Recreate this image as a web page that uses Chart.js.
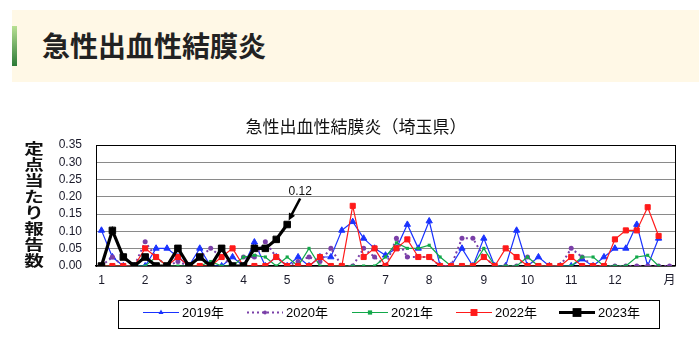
<!DOCTYPE html>
<html lang="ja">
<head>
<meta charset="utf-8">
<title>急性出血性結膜炎</title>
<script src="https://cdn.jsdelivr.net/npm/chart.js@4"></script>
<style>
  html, body { margin:0; padding:0; background:#fff; width:699px; height:348px; overflow:hidden; }
  .head { position:absolute; left:12px; top:10px; width:687px; height:72px; background:#fff8e6; }
  .head .bar { position:absolute; left:0; top:16px; width:5px; height:40px; background:linear-gradient(#b8e093, #2c7a36); }
  .head h1 { position:absolute; left:30px; top:0; margin:0; font:bold 28px "Noto Sans CJK JP", sans-serif; line-height:70px; color:#222; }
  #wrap { position:absolute; left:0; top:95px; width:699px; height:253px; }
</style>
</head>
<body>
<div class="head"><div class="bar"></div><h1>急性出血性結膜炎</h1></div>
<div id="wrap"><canvas id="c" width="699" height="253"></canvas></div>
<script>
// 週番号（第1週〜第53週）
const weeks = [1,2,3,4,5,6,7,8,9,10,11,12,13,14,15,16,17,18,19,20,21,22,23,24,25,26,27,
               28,29,30,31,32,33,34,35,36,37,38,39,40,41,42,43,44,45,46,47,48,49,50,51,52,53];
// 月の目盛を付ける週と、その表示
const tickWeeks  = [1, 5, 9, 14, 18, 22, 27, 31, 36, 40, 44, 48, 53];
const tickLabels = ['1','2','3','4','5','6','7','8','9','10','11','12','月'];

// 定点当たり報告数
const y2019 = [0.103,0.026,0,0,0,0.051,0.051,0.026,0,0.051,0,0,0.026,0,0.069,0,0.026,0,0.026,0,
               0.026,0.026,0.103,0.128,0.080,0.051,0.031,0.051,0.120,0.051,0.130,0,0,0.051,0,0.080,
               0,0,0.103,0,0.026,0,0,0,0.020,0,0.026,0.051,0.051,0.120,0,0.080];
const y2020 = [0,0.026,0,0,0.070,0.026,0,0.013,0,0.026,0.051,0.026,0,0.026,0.026,0.070,0.026,0,0.013,0.026,
               0.013,0.051,0,0,0.051,0.026,0,0.080,0.026,0.026,0.026,0,0,0.080,0.080,0.026,
               0,0,0,0.026,0,0,0,0.051,0.026,0,0,0,0,0,0,0,0];
const y2021 = [0,0,0,0,0,0.026,0,0,0,0,0.013,0,0,0.026,0.031,0.026,0,0.026,0,0.051,
               0,0,0,0,0,0,0.026,0.067,0.051,0.051,0.060,0.026,0,0,0,0.051,
               0,0,0,0.026,0,0,0,0,0.026,0.026,0,0,0,0.026,0.031,0];
const y2022 = [0,0,0,0,0.051,0.026,0,0.026,0,0,0,0.026,0.051,0,0,0,0.026,0,0,0,
               0.026,0,0,0.174,0.026,0.051,0,0.051,0.077,0.026,0.026,0,0,0,0,0.026,
               0,0.051,0.026,0,0,0,0,0.026,0,0,0,0.077,0.103,0.103,0.170,0.087];
const y2023 = [0,0.103,0.026,0,0.026,0,0,0.051,0,0.026,0,0.051,0,0,0.051,0.051,0.077,0.12];

const seriesNames = ['2019年','2020年','2021年','2022年','2023年'];

const datasets = [
  { label:seriesNames[0], data:y2019, borderColor:'#1a33ff', backgroundColor:'#1a33ff', borderWidth:1.2,
    pointStyle:'triangle', pointRadius:3.6, pointBorderWidth:1, order:4 },
  { label:seriesNames[1], data:y2020, borderColor:'#7a3fa8', backgroundColor:'#7a3fa8', borderWidth:2,
    borderDash:[2,3], pointStyle:'circle', pointRadius:2.5, pointBorderWidth:0, order:3 },
  { label:seriesNames[2], data:y2021, borderColor:'#12a84a', backgroundColor:'#12a84a', borderWidth:1.2,
    pointStyle:'rect', pointRadius:2.2, pointBorderWidth:0, order:2 },
  { label:seriesNames[3], data:y2022, borderColor:'#ff1a1a', backgroundColor:'#ff1a1a', borderWidth:1.2,
    pointStyle:'rect', pointRadius:3.6, pointBorderWidth:1, order:1 },
  { label:seriesNames[4], data:y2023, borderColor:'#000', backgroundColor:'#000', borderWidth:3.2,
    pointStyle:'rect', pointRadius:4.6, pointBorderWidth:1, order:0 }
];

// 枠・タイトル・縦軸名・凡例・最新値の注記
const decorations = {
  id:'decorations',
  afterDatasetsDraw(chart) {
    const ctx = chart.ctx, a = chart.chartArea;
    ctx.save();
    // 右側の枠線
    ctx.strokeStyle = '#000'; ctx.lineWidth = 1;
    ctx.beginPath(); ctx.moveTo(a.right + 0.5, a.top); ctx.lineTo(a.right + 0.5, a.bottom); ctx.stroke();

    // グラフタイトル
    ctx.fillStyle = '#111';
    ctx.font = '17px "Noto Sans CJK JP", sans-serif';
    ctx.textAlign = 'center'; ctx.textBaseline = 'middle';
    ctx.fillText('急性出血性結膜炎（埼玉県）', 356, 32);

    // 縦軸名（縦書き）
    const yTitle = '定点当たり報告数';
    ctx.font = 'bold 17px "Noto Sans CJK JP", sans-serif';
    for (let i = 0; i < yTitle.length; i++) {
      ctx.save();
      ctx.translate(34, 53 + i * 16);
      ctx.scale(1.15, 0.86);
      ctx.fillText(yTitle[i], 0, 0);
      ctx.restore();
    }

    // 2023年の最新値の注記
    const meta = chart.getDatasetMeta(4);
    const last = meta.data[meta.data.length - 1];
    const val = y2023[y2023.length - 1];
    const tipX = last.x + 1.5, tipY = last.y - 4;
    const tailX = last.x + 13, tailY = last.y - 26;
    ctx.strokeStyle = '#000'; ctx.fillStyle = '#000'; ctx.lineWidth = 2.6;
    ctx.beginPath(); ctx.moveTo(tailX, tailY); ctx.lineTo(tipX + 2.5, tipY - 5); ctx.stroke();
    const ang = Math.atan2(tipY - tailY, tipX - tailX);
    ctx.beginPath();
    ctx.moveTo(tipX, tipY);
    ctx.lineTo(tipX - 8 * Math.cos(ang - 0.45), tipY - 8 * Math.sin(ang - 0.45));
    ctx.lineTo(tipX - 8 * Math.cos(ang + 0.45), tipY - 8 * Math.sin(ang + 0.45));
    ctx.closePath(); ctx.fill();
    ctx.font = '12px "Liberation Sans", sans-serif';
    ctx.fillStyle = '#111';
    ctx.fillText(val.toFixed(2), last.x + 13, last.y - 33);

    // 凡例
    const boxL = 118.5, boxR = 659.5, boxT = 205.5, boxB = 233.5, cy = 217.5;
    ctx.strokeStyle = '#000'; ctx.lineWidth = 1;
    ctx.strokeRect(boxL, boxT, boxR - boxL, boxB - boxT);
    const starts = [143, 247, 352, 456, 559];
    ctx.textAlign = 'left';
    ctx.font = '13px "Liberation Sans", "Noto Sans CJK JP", sans-serif';
    chart.data.datasets.forEach((ds, i) => {
      const x0 = starts[i], x1 = x0 + 36, xm = (x0 + x1) / 2;
      ctx.save();
      ctx.strokeStyle = ds.borderColor; ctx.lineWidth = ds.borderWidth;
      ctx.setLineDash(ds.borderDash || []);
      ctx.beginPath(); ctx.moveTo(x0, cy); ctx.lineTo(x1, cy); ctx.stroke();
      ctx.setLineDash([]);
      ctx.fillStyle = ds.backgroundColor;
      const r = ds.pointRadius * 0.8;
      ctx.beginPath();
      if (ds.pointStyle === 'triangle') {
        ctx.moveTo(xm, cy - r); ctx.lineTo(xm + r * 0.87, cy + r * 0.5); ctx.lineTo(xm - r * 0.87, cy + r * 0.5);
        ctx.closePath(); ctx.fill();
      } else if (ds.pointStyle === 'circle') {
        ctx.arc(xm, cy, r, 0, Math.PI * 2); ctx.fill();
      } else {
        const h = r * 1.2;
        ctx.fillRect(xm - h, cy - h, 2 * h, 2 * h);
      }
      ctx.restore();
      ctx.fillStyle = '#000';
      ctx.fillText(ds.label, x1 + 3, cy + 0.5);
    });
    ctx.restore();
  }
};

new Chart(document.getElementById('c'), {
  type:'line',
  data:{ labels:weeks, datasets:datasets },
  options:{
    responsive:false,
    animation:false,
    spanGaps:false,
    elements:{ line:{ tension:0 } },
    layout:{ padding:{ top:50, right:24, bottom:60, left:0 } },
    plugins:{ legend:{ display:false }, title:{ display:false }, tooltip:{ enabled:false } },
    scales:{
      x:{
        type:'category', offset:true,
        grid:{ display:false, drawTicks:false },
        border:{ color:'#000', width:1.5 },
        ticks:{
          autoSkip:false, maxRotation:0, padding:7, color:'#1a1a2a',
          font:{ size:12, family:'"Liberation Sans", "Noto Sans CJK JP", sans-serif' },
          callback:(v, i) => { const k = tickWeeks.indexOf(weeks[i]); return k >= 0 ? tickLabels[k] : ''; }
        },
        afterFit:s => { s.height = 22; }
      },
      y:{
        min:0, max:0.35,
        grid:{ color:c => (c.tick && c.tick.value > 0.349) ? '#000' : '#8a8a8a', drawTicks:false, lineWidth:1 },
        border:{ color:'#000', width:1 },
        ticks:{ stepSize:0.05, autoSkip:false, padding:14, color:'#1a1a2a',
                font:{ size:12, family:'"Liberation Sans", sans-serif' },
                callback:v => v.toFixed(2) },
        afterFit:s => { s.width = 96; }
      }
    }
  },
  plugins:[decorations]
});
</script>
</body>
</html>
